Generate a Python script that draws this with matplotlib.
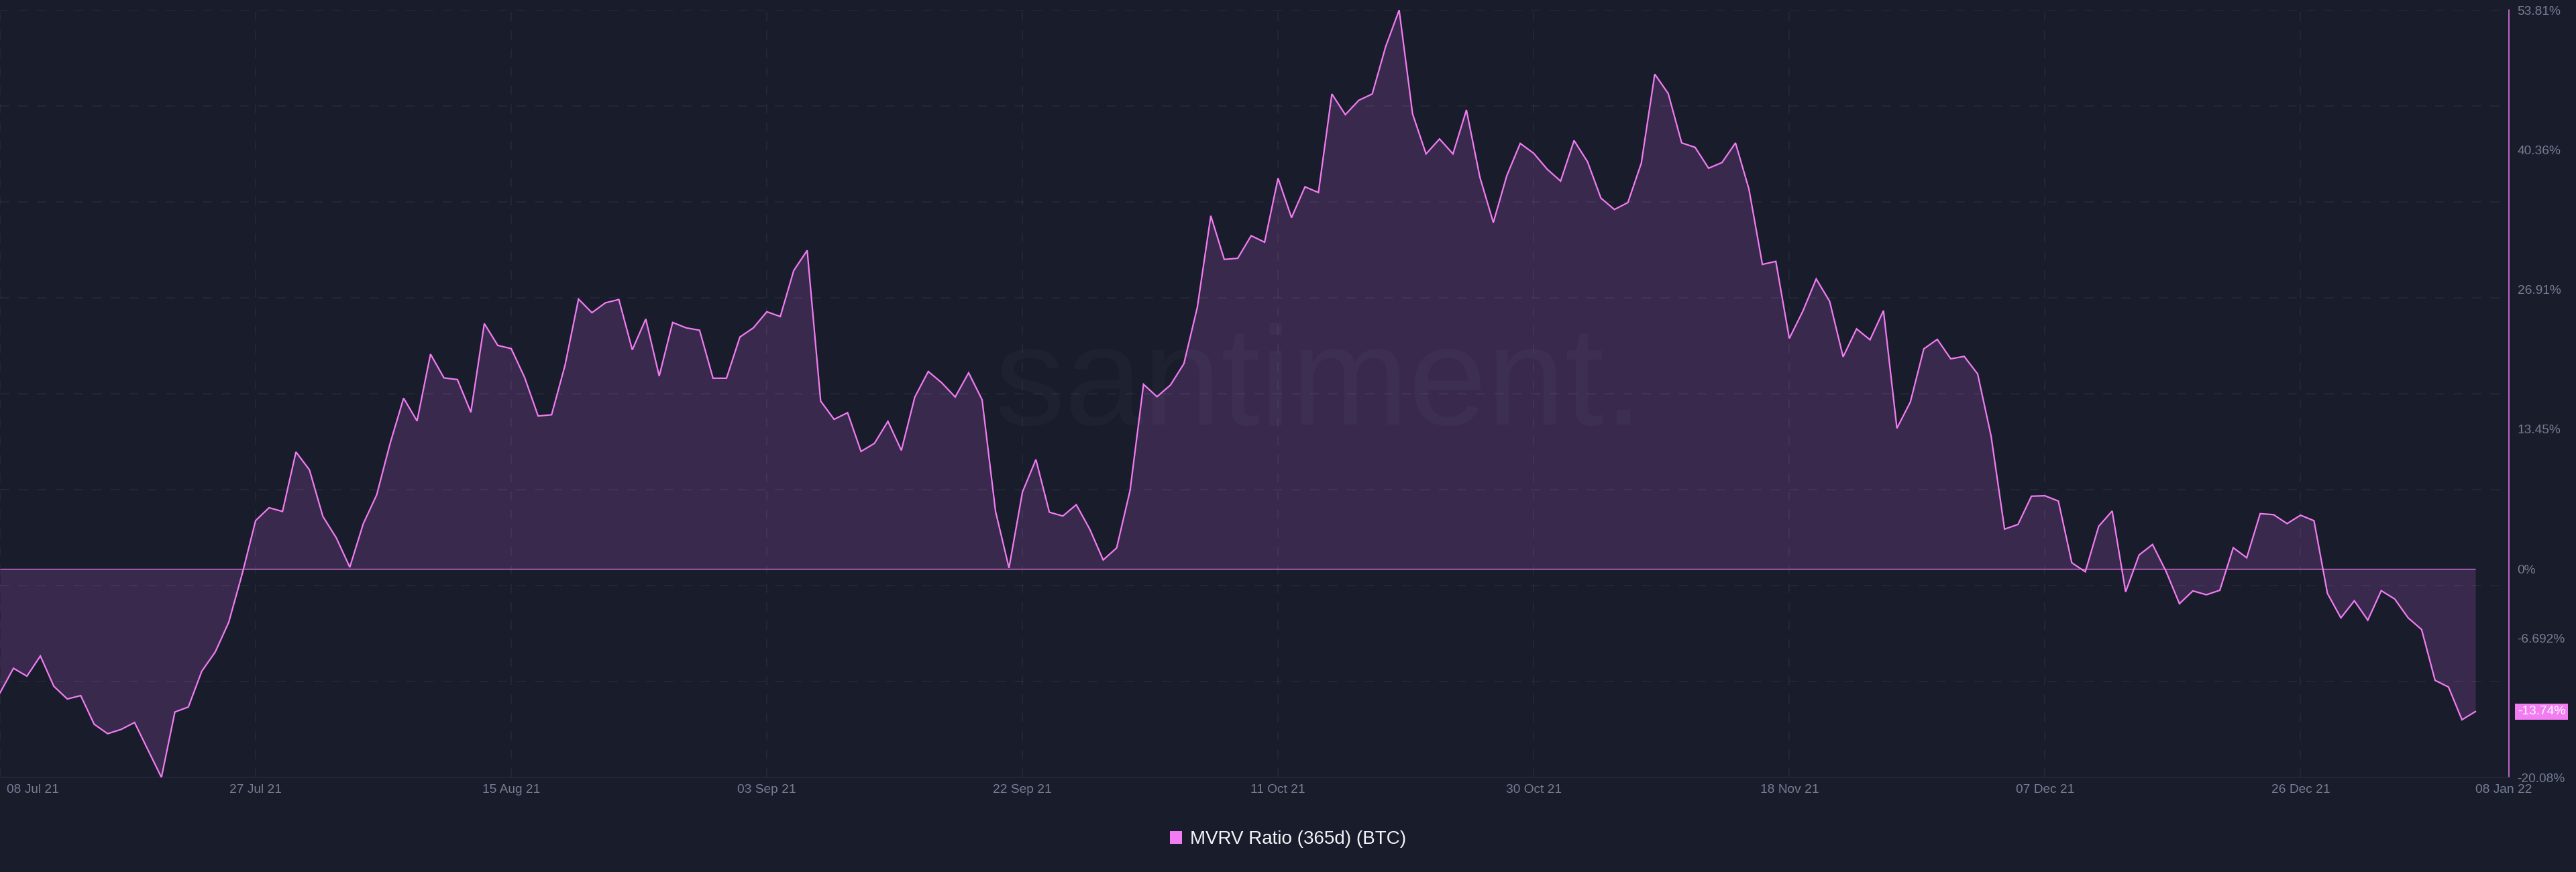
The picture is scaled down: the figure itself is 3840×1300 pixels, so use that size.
import numpy as np
import pandas as pd
import matplotlib
matplotlib.use("Agg")
import matplotlib.pyplot as plt
import matplotlib.dates as mdates
from matplotlib.patches import Patch
from matplotlib.transforms import ScaledTranslation, blended_transform_factory
from matplotlib import font_manager

# MVRV ratio (365d) for BTC, one value per day from 08 Jul 21 to 08 Jan 22 (in %)
start_date = "2021-07-08"
mvrv_pct = [
    -11.94, -9.57, -10.33, -8.39, -11.30, -12.53, -12.20, -14.96, -15.87, -15.46,
    -14.79, -17.44, -20.08, -13.78, -13.30, -9.85, -8.00, -5.15, -0.50, 4.65,
    5.89, 5.53, 11.26, 9.54, 5.05, 2.98, 0.16, 4.34, 7.13, 12.09,
    16.44, 14.24, 20.68, 18.39, 18.23, 15.08, 23.62, 21.52, 21.21, 18.42,
    14.72, 14.84, 19.61, 25.98, 24.67, 25.62, 25.94, 21.09, 24.06, 18.57,
    23.73, 23.21, 22.98, 18.36, 18.36, 22.33, 23.21, 24.76, 24.30, 28.73,
    30.67, 16.16, 14.40, 15.04, 11.31, 12.09, 14.21, 11.41, 16.55, 19.01,
    17.92, 16.55, 18.88, 16.29, 5.53, 0.09, 7.40, 10.53, 5.46, 5.09,
    6.18, 3.83, 0.86, 2.02, 7.56, 17.77, 16.58, 17.70, 19.76, 25.20,
    34.00, 29.80, 29.91, 32.08, 31.46, 37.62, 33.82, 36.79, 36.24, 45.73,
    43.74, 45.12, 45.73, 50.30, 53.81, 43.80, 39.96, 41.40, 39.96, 44.19,
    37.72, 33.35, 37.86, 40.97, 40.02, 38.49, 37.34, 41.25, 39.21, 35.70,
    34.61, 35.27, 39.07, 47.64, 45.77, 41.02, 40.59, 38.58, 39.13, 41.02,
    36.57, 29.32, 29.61, 22.19, 24.80, 27.92, 25.76, 20.42, 23.11, 22.06,
    24.87, 13.54, 16.08, 21.19, 22.10, 20.23, 20.46, 18.77, 12.79, 3.83,
    4.28, 7.00, 7.04, 6.53, 0.59, -0.28, 4.11, 5.57, -2.22, 1.34,
    2.35, -0.23, -3.35, -2.12, -2.49, -2.06, 2.04, 1.07, 5.32, 5.22,
    4.36, 5.17, 4.64, -2.36, -4.72, -3.07, -4.94, -2.10, -2.90, -4.72,
    -5.84, -10.73, -11.38, -14.53, -13.74,
]

tick_dates = ["2021-07-08", "2021-07-27", "2021-08-15", "2021-09-03", "2021-09-22",
              "2021-10-11", "2021-10-30", "2021-11-18", "2021-12-07", "2021-12-26",
              "2022-01-08"]
tick_labels = ["08 Jul 21", "27 Jul 21", "15 Aug 21", "03 Sep 21", "22 Sep 21",
               "11 Oct 21", "30 Oct 21", "18 Nov 21", "07 Dec 21", "26 Dec 21",
               "08 Jan 22"]
y_ticks = [53.81, 40.36, 26.91, 13.45, 0, -6.692, -13.38, -20.08]
y_tick_labels = ["53.81%", "40.36%", "26.91%", "13.45%", "0%", "-6.692%", "-13.38%", "-20.08%"]
last_label = "-13.74%"
series_name = "MVRV Ratio (365d) (BTC)"

# colours
bg = "#191c2b"
fill_col = "#392a4d"
pink = "#f27cf2"
tick_col = "#767d93"
axis_col = "#272a3b"

plt.rcParams["font.family"] = ["Liberation Sans", "DejaVu Sans"]


def has_font(name):
    try:
        font_manager.findfont(font_manager.FontProperties(family=name), fallback_to_default=False)
        return True
    except ValueError:
        return False


dates = pd.date_range(start_date, periods=len(mvrv_pct), freq="D")
x = mdates.date2num(dates.to_pydatetime())
tick_x = mdates.date2num(pd.to_datetime(tick_dates).to_pydatetime())
y = np.array(mvrv_pct)

fig = plt.figure(figsize=(38.4, 13), dpi=100, facecolor=bg)
ax = fig.add_axes([0, 0.10846, 0.97396, 0.88])
ax.set_facecolor(bg)

ax.fill_between(x, y, 0, color=fill_col, lw=0, zorder=1)
ax.hlines(0, x[0], x[-1], color=pink, lw=0.9, zorder=3)
ax.plot(x, y, color=pink, lw=1.6, zorder=4, solid_joinstyle="miter")

ymin, ymax = y.min(), y.max()
ax.set_ylim(ymin, ymax)
ax.set_xlim(x[0], x[0] + 186.49)

# dashed grid, 8 equal bands on y, dates on x
for lvl in np.linspace(ymin, ymax, 9)[1:]:
    ax.axhline(lvl, color="white", alpha=0.06, lw=1.1, dashes=(9, 9), zorder=2)
for tx in tick_x[:-1]:
    ax.axvline(tx, color="white", alpha=0.06, lw=1.1, dashes=(9, 9), zorder=2)

for s in ["top", "left"]:
    ax.spines[s].set_visible(False)
ax.spines["bottom"].set_color(axis_col)
ax.spines["bottom"].set_linewidth(1.1)
ax.spines["right"].set_color(pink)
ax.spines["right"].set_linewidth(1.1)

ax.set_xticks(tick_x)
ax.set_xticklabels(tick_labels)
ax.tick_params(axis="x", length=0, pad=7, labelsize=13.8, labelcolor=tick_col)
ax.yaxis.tick_right()
ax.set_yticks(y_ticks)
ax.set_yticklabels(y_tick_labels)
ax.tick_params(axis="y", length=0, pad=9, labelsize=13.8, labelcolor=tick_col)

xl = ax.get_xticklabels()
xl[0].set_horizontalalignment("left")
xl[0].set_transform(xl[0].get_transform() + ScaledTranslation(0.1, 0, fig.dpi_scale_trans))
xl[-1].set_horizontalalignment("left")

# last value tag on the right axis
tr = blended_transform_factory(ax.transAxes, ax.transData)
ax.text(1.0035, y[-1], last_label, transform=tr, ha="left", va="center",
        fontsize=13.8, color="white", zorder=6, clip_on=False,
        bbox=dict(boxstyle="square,pad=0.2", fc=pink, ec="none"))

# watermark
if has_font("Liberation Sans Narrow"):
    wm_font, wm_size = "Liberation Sans Narrow", 181
else:
    wm_font, wm_size = "Liberation Sans", 151
ax.text(0.512, 0.513, "santiment.", transform=fig.transFigure, ha="center", va="baseline",
        fontsize=wm_size, family=[wm_font, "DejaVu Sans"], color="white", alpha=0.025, zorder=2)

fig.legend(handles=[Patch(facecolor=pink, edgecolor="none")], labels=[series_name],
           loc="center", bbox_to_anchor=(0.5, 0.0377), frameon=False, fontsize=20,
           labelcolor="#f4f4f8", handlelength=0.65, handleheight=0.65,
           handletextpad=0.4, borderpad=0)

fig.savefig("out.png", dpi=100, facecolor=bg)
